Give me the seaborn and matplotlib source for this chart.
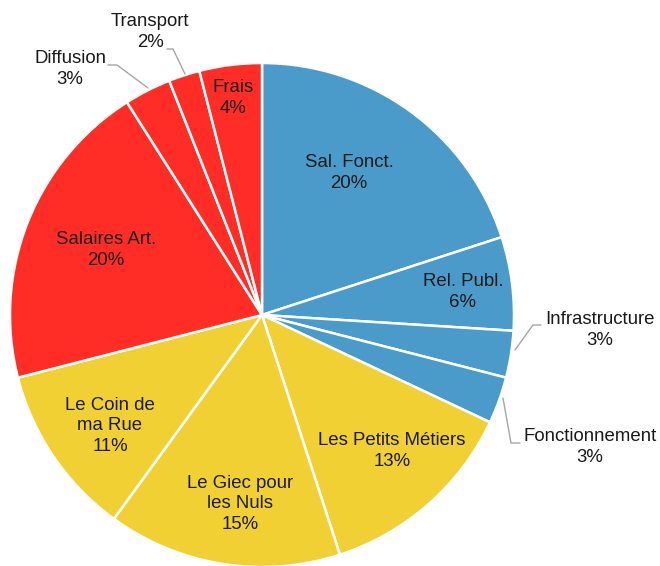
import numpy as np
import matplotlib.pyplot as plt
import seaborn as sns

# Budget breakdown (percent)
labels = ["Sal. Fonct.", "Rel. Publ.", "Infrastructure", "Fonctionnement",
          "Les Petits Métiers", "Le Giec pour\nles Nuls", "Le Coin de\nma Rue",
          "Salaires Art.", "Diffusion", "Transport", "Frais"]
values = [20, 6, 3, 3, 13, 15, 11, 20, 3, 2, 4]
groups = ["fonct", "fonct", "fonct", "fonct",
          "proj", "proj", "proj",
          "art", "art", "art", "art"]

group_colors = {"fonct": "#4A9BC9", "proj": "#F0D032", "art": "#FF2D26"}
colors = [group_colors[g] for g in groups]

# label centres in pixel coords (x, y from top), outside ones have leaders
label_pos = [(349, 173), (463, 292), (600, 330), (590, 447), (392, 451),
             (240, 504), (110, 426), (106, 250), (70, 69), (150, 32), (233, 98)]
leaders = {
    2: [(541, 325), (533, 325), (515, 350)],
    3: [(503, 398), (511, 443), (520, 443)],
    8: [(108, 65), (117, 65), (148, 88)],
    9: [(167, 49), (173, 49), (185, 74)],
}

sns.set_theme(style="white")
plt.rcParams['font.family'] = ['Liberation Sans', 'DejaVu Sans']

W, H = 660, 566
fig = plt.figure(figsize=(W / 100, H / 100), dpi=100)
ax = fig.add_axes([0, 0, 1, 1])

cx, cy, r = 262, 315, 252
ax.pie(values, colors=colors, startangle=90, counterclock=False,
       center=(cx, H - cy), radius=r,
       wedgeprops=dict(edgecolor="white", linewidth=1.8))

for i, (name, v) in enumerate(zip(labels, values)):
    x, y = label_pos[i]
    ax.text(x, H - y, f"{name}\n{v}%", ha="center", va="center",
            fontsize=13.4, color="#1a1a1a", linespacing=1.25)

for pts in leaders.values():
    xs = [p[0] for p in pts]
    ys = [H - p[1] for p in pts]
    ax.plot(xs, ys, color="#A6A6A6", lw=1)

ax.set_xlim(0, W)
ax.set_ylim(0, H)
ax.set_aspect("equal")
ax.axis("off")

plt.savefig("out.png", dpi=100)
